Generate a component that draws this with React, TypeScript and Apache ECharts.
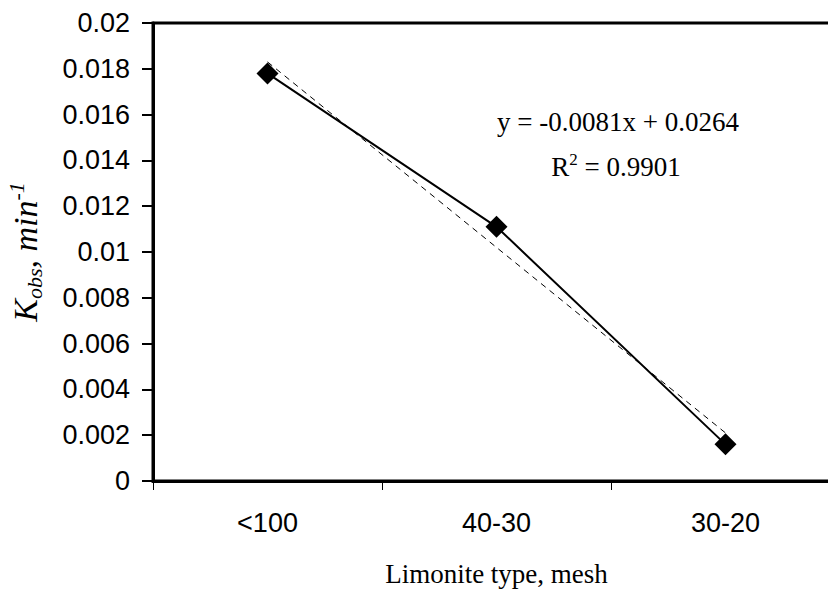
import React, { useEffect, useRef } from "react";
import * as echarts from "echarts";

const categories = ["<100", "40-30", "30-20"];
const kobs = [0.0178, 0.0111, 0.0016];
const trendSlope = -0.0081;
const trendIntercept = 0.0264;
const rSquared = "0.9901";
const yMin = 0;
const yMax = 0.02;
const yStep = 0.002;

const SANS = "'Liberation Sans', Arial, sans-serif";
const SERIF = "'Liberation Serif', 'Times New Roman', serif";

export default function App() {
  const ref = useRef<HTMLDivElement>(null);

  useEffect(() => {
    if (!ref.current) return;
    const chart = echarts.init(ref.current, undefined, { renderer: "svg" });
    const trend = categories.map((_, i) => +(trendSlope * (i + 1) + trendIntercept).toFixed(5));

    chart.setOption({
      animation: false,
      backgroundColor: "#fff",
      grid: {
        left: 153,
        top: 23,
        width: 687,
        height: 458,
        outerBoundsMode: "none",
        containLabel: false,
        show: true,
        borderColor: "#000",
        borderWidth: 3,
        backgroundColor: "transparent",
      },
      xAxis: {
        type: "category",
        data: categories,
        boundaryGap: true,
        axisLine: { show: true, lineStyle: { color: "#000", width: 3 } },
        axisTick: { show: true, length: 9, lineStyle: { color: "#000", width: 1 } },
        axisLabel: { color: "#000", fontSize: 27, fontFamily: SANS, margin: 28 },
        splitLine: { show: false },
        name: "Limonite type, mesh",
        nameLocation: "middle",
        nameGap: 93,
        nameTextStyle: { color: "#000", fontSize: 27, fontFamily: SERIF, verticalAlign: "middle" },
      },
      yAxis: {
        type: "value",
        min: yMin,
        max: yMax,
        interval: yStep,
        axisLine: { show: true, lineStyle: { color: "#000", width: 3 } },
        axisTick: { show: true, length: 11, lineStyle: { color: "#000", width: 2 } },
        axisLabel: {
          color: "#000",
          fontSize: 27,
          fontFamily: SANS,
          margin: 23,
          formatter: (v: number) => (v === 0 ? "0" : String(+v.toFixed(3))),
        },
        splitLine: { show: false },
        name: "{k|K}{sub|obs}{k|, min}{sup|-1}",
        nameLocation: "middle",
        nameRotate: 90,
        nameGap: 128,
        nameTextStyle: {
          color: "#000",
          verticalAlign: "middle",
          rich: {
            k: { fontSize: 34, fontStyle: "italic", fontFamily: SERIF, color: "#000", lineHeight: 40 },
            sub: { fontSize: 22, fontStyle: "italic", fontFamily: SERIF, color: "#000", lineHeight: 22, verticalAlign: "bottom" },
            sup: { fontSize: 22, fontStyle: "italic", fontFamily: SERIF, color: "#000", lineHeight: 22, verticalAlign: "top" },
          },
        },
      },
      graphic: [
        {
          type: "text",
          x: 618,
          y: 122,
          style: {
            text: `y = ${trendSlope}x + ${trendIntercept}`,
            fontSize: 27,
            fontFamily: SERIF,
            fill: "#000",
            align: "center",
            verticalAlign: "middle",
          },
        },
        {
          type: "text",
          x: 616,
          y: 167,
          style: {
            text: `{m|R}{s|2}{m| = ${rSquared}}`,
            align: "center",
            verticalAlign: "middle",
            rich: {
              m: { fontSize: 27, fontFamily: SERIF, fill: "#000", lineHeight: 32 },
              s: { fontSize: 17, fontFamily: SERIF, fill: "#000", lineHeight: 17, verticalAlign: "top" },
            },
          },
        },
      ],
      series: [
        {
          name: "Trend",
          type: "line",
          data: trend,
          symbol: "none",
          lineStyle: { color: "#000", width: 1, type: [6, 5] },
          z: 2,
          silent: true,
        },
        {
          name: "Kobs",
          type: "line",
          data: kobs,
          symbol: "diamond",
          symbolSize: 22,
          itemStyle: { color: "#000" },
          lineStyle: { color: "#000", width: 2 },
          z: 3,
        },
      ],
    });

    return () => chart.dispose();
  }, []);

  return (
    <div style={{ width: 828, height: 590, position: "absolute", left: 0, top: 0, overflow: "hidden" }}>
      <div ref={ref} style={{ width: 870, height: 590 }} />
    </div>
  );
}
